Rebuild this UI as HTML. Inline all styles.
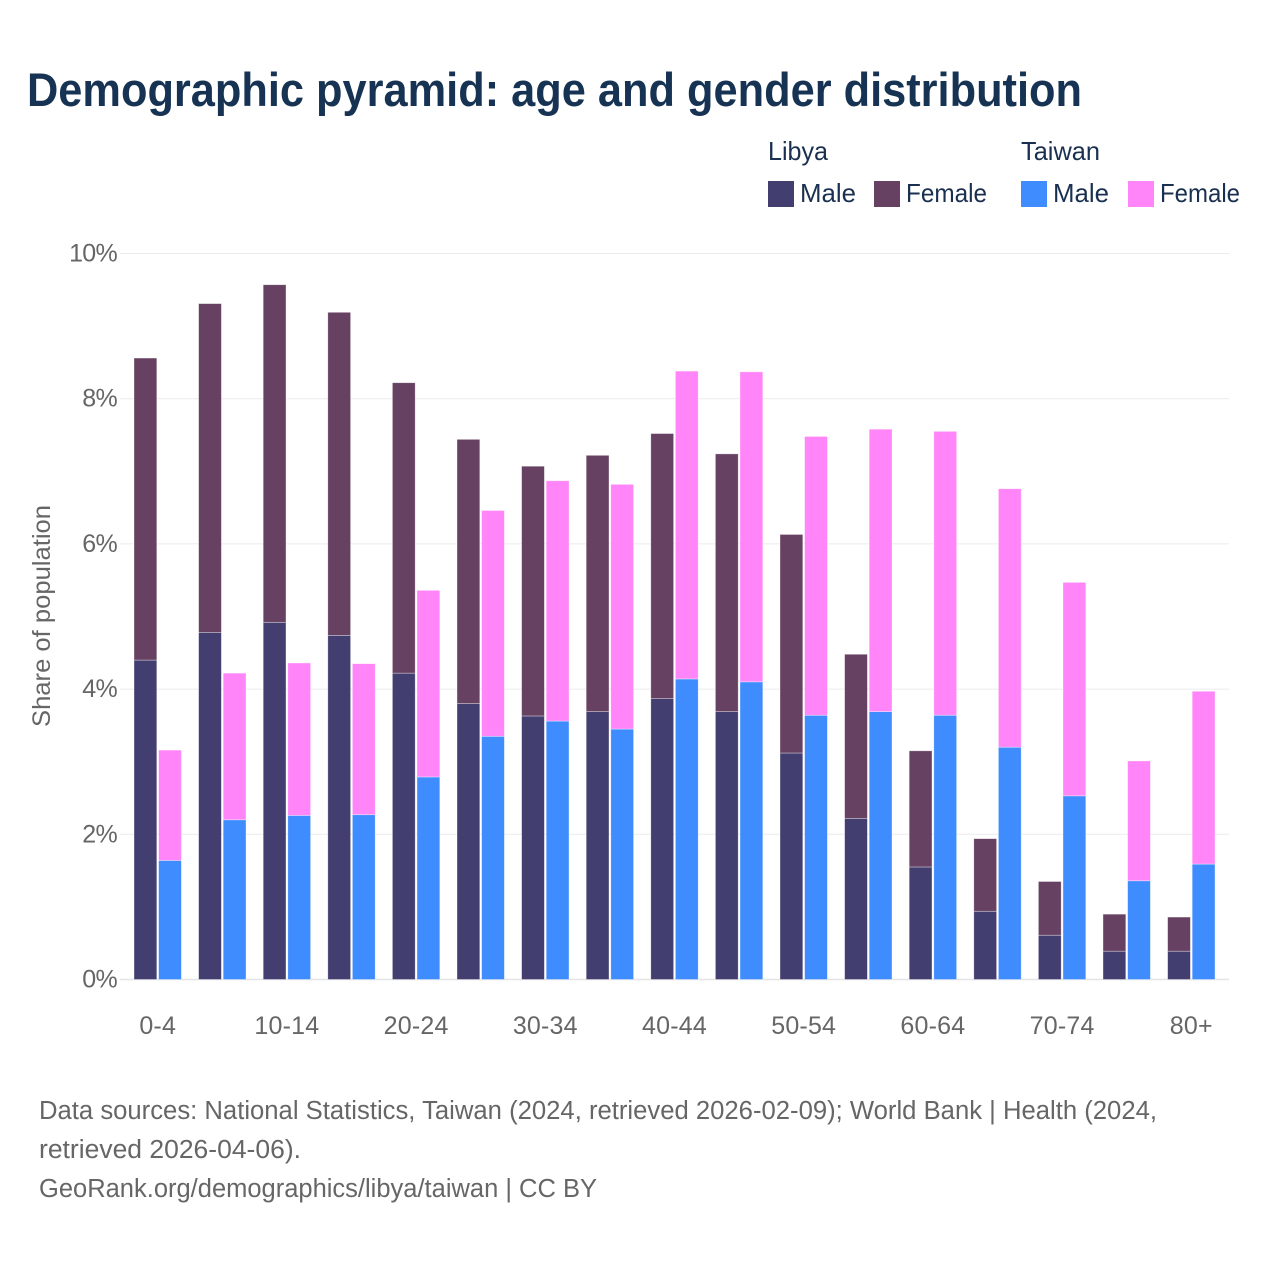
<!DOCTYPE html>
<html lang="en">
<head>
<meta charset="utf-8">
<title>Demographic pyramid: age and gender distribution</title>
<style>
html,body{margin:0;padding:0;background:#fff;}
svg{display:block;}
text{font-family:"Liberation Sans",sans-serif;}
.tick{font-size:25px;fill:#666;}
.leg{font-size:26px;fill:#1a3050;}
.foot{font-size:25.5px;fill:#666;}
</style>
</head>
<body>
<svg id="chart" xmlns="http://www.w3.org/2000/svg" width="1280" height="1280" viewBox="0 0 1280 1280">
<rect width="1280" height="1280" fill="#fff"/>
<text x="27" y="106" font-size="47" font-weight="700" fill="#173353" textLength="1055" lengthAdjust="spacingAndGlyphs">Demographic pyramid: age and gender distribution</text>

<g>
<text class="leg" x="768" y="160" textLength="60" lengthAdjust="spacingAndGlyphs">Libya</text>
<text class="leg" x="1021" y="160" textLength="79" lengthAdjust="spacingAndGlyphs">Taiwan</text>
<rect x="768" y="181" width="26" height="26" fill="#433e70"/>
<text class="leg" x="800" y="202" textLength="56" lengthAdjust="spacingAndGlyphs">Male</text>
<rect x="874" y="181" width="26" height="26" fill="#674161"/>
<text class="leg" x="906" y="202" textLength="81" lengthAdjust="spacingAndGlyphs">Female</text>
<rect x="1021" y="181" width="26" height="26" fill="#3f8cff"/>
<text class="leg" x="1053" y="202" textLength="56" lengthAdjust="spacingAndGlyphs">Male</text>
<rect x="1128" y="181" width="26" height="26" fill="#ff85f8"/>
<text class="leg" x="1160" y="202" textLength="80" lengthAdjust="spacingAndGlyphs">Female</text>
</g>

<g id="grid"></g>
<g id="bars"></g>
<g id="yticks"></g>
<g id="xticks"></g>

<text class="tick" transform="translate(50,616) rotate(-90)" text-anchor="middle" textLength="222" lengthAdjust="spacingAndGlyphs">Share of population</text>

<g>
<text class="foot" x="39" y="1119" textLength="1118" lengthAdjust="spacingAndGlyphs">Data sources: National Statistics, Taiwan (2024, retrieved 2026-02-09); World Bank | Health (2024,</text>
<text class="foot" x="39" y="1158" textLength="262" lengthAdjust="spacingAndGlyphs">retrieved 2026-04-06).</text>
<text class="foot" x="39" y="1197" textLength="558" lengthAdjust="spacingAndGlyphs">GeoRank.org/demographics/libya/taiwan | CC BY</text>
</g>
</svg>
<script>
const categories = ["0-4","5-9","10-14","15-19","20-24","25-29","30-34","35-39","40-44","45-49","50-54","55-59","60-64","65-69","70-74","75-79","80+"];
const libyaMale = [4.40,4.78,4.92,4.74,4.22,3.80,3.63,3.69,3.87,3.69,3.12,2.22,1.55,0.94,0.61,0.39,0.39];
const libyaFemale = [4.16,4.53,4.65,4.45,4.00,3.64,3.44,3.53,3.65,3.55,3.01,2.26,1.60,1.00,0.74,0.51,0.47];
const taiwanMale = [1.64,2.20,2.26,2.27,2.79,3.35,3.56,3.45,4.14,4.10,3.64,3.69,3.64,3.20,2.53,1.36,1.59];
const taiwanFemale = [1.52,2.02,2.10,2.08,2.57,3.11,3.31,3.37,4.24,4.27,3.84,3.89,3.91,3.56,2.94,1.65,2.38];
const yTicks = [0,2,4,6,8,10];

const NS = "http://www.w3.org/2000/svg";
function yScale(v){ return 979.5 - v * 72.6; }
function xCenter(i){ return 157.7 + i * 64.6; }
const BAR_W = 22.8;
const GAP = 1.8;

const grid = document.getElementById("grid");
const yt = document.getElementById("yticks");
yTicks.forEach(function(t){
  const l = document.createElementNS(NS,"line");
  
  
  l.setAttribute("x1",120); l.setAttribute("x2",1229);
  l.setAttribute("y1",yScale(t)); l.setAttribute("y2",yScale(t));
  l.setAttribute("stroke", t===0 ? "#e4e4e4" : "#ebebeb");
  l.setAttribute("stroke-width", t===0 ? 1.5 : 1);
  grid.appendChild(l);
  const s = document.createElementNS(NS,"text");
  
  
  s.setAttribute("class","tick");
  s.setAttribute("x",117);
  s.setAttribute("y",yScale(t)+8);
  s.setAttribute("text-anchor","end");
  s.setAttribute("letter-spacing","-0.7");
  s.textContent = t + "%";
  yt.appendChild(s);
});

const xt = document.getElementById("xticks");
categories.forEach(function(c,i){
  if(i % 2 !== 0) return;
  const s = document.createElementNS(NS,"text");
  
  
  s.setAttribute("class","tick");
  s.setAttribute("x",xCenter(i));
  s.setAttribute("y",1034);
  s.setAttribute("text-anchor","middle");
  s.setAttribute("letter-spacing","0.2");
  s.textContent = c;
  xt.appendChild(s);
});

const bars = document.getElementById("bars");
function addBar(x, base, value, fill, name){
  const r = document.createElementNS(NS,"rect");
  
  
  const top = yScale(base + value);
  r.setAttribute("x",x);
  r.setAttribute("y",top);
  r.setAttribute("width",BAR_W);
  r.setAttribute("height",yScale(base) - top);
  r.setAttribute("fill",fill);
  r.setAttribute("stroke","#fff");
  r.setAttribute("stroke-opacity","0.5");
  r.setAttribute("stroke-width","0.7");
  bars.appendChild(r);
}
categories.forEach(function(c,i){
  const cx = xCenter(i);
  const xL = cx - BAR_W - GAP/2;
  const xT = cx + GAP/2;
  addBar(xL, 0, libyaMale[i], "#433e70", "bar-libya-male");
  addBar(xL, libyaMale[i], libyaFemale[i], "#674161", "bar-libya-female");
  addBar(xT, 0, taiwanMale[i], "#3f8cff", "bar-taiwan-male");
  addBar(xT, taiwanMale[i], taiwanFemale[i], "#ff85f8", "bar-taiwan-female");
});
</script>
</body>
</html>
